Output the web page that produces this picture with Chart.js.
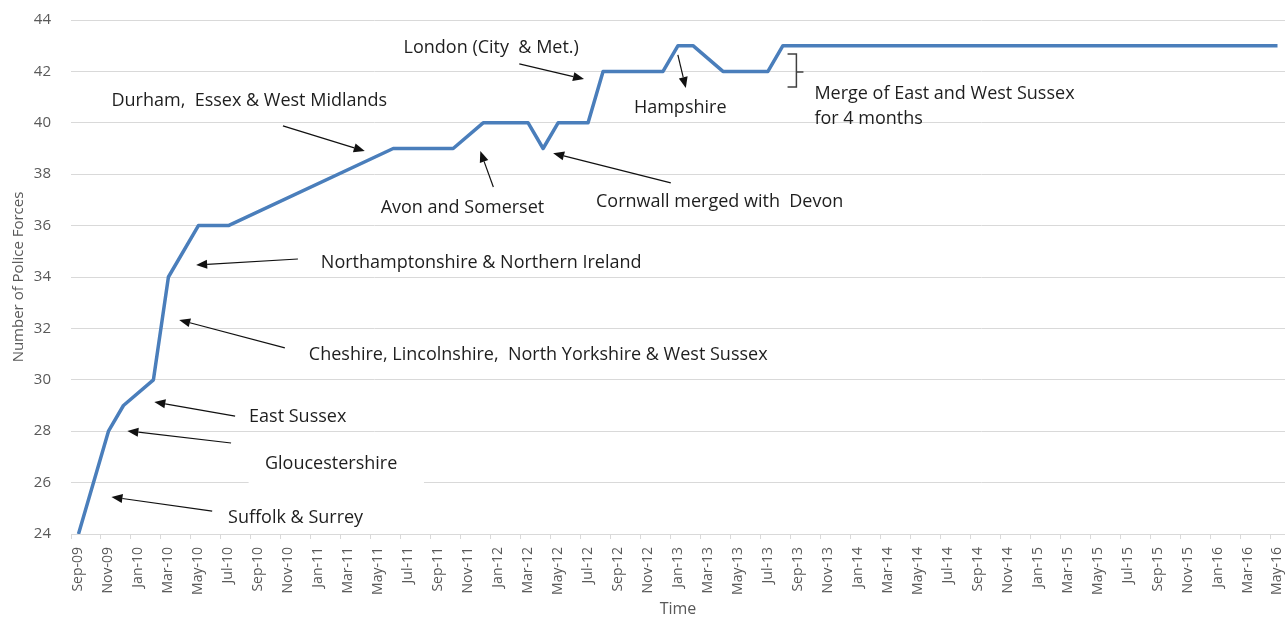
<!DOCTYPE html>
<html>
<head>
<meta charset="utf-8">
<title>Number of Police Forces</title>
<script src="https://cdn.jsdelivr.net/npm/chart.js@4.4.1/dist/chart.umd.min.js"></script>
<style>
  html, body { margin: 0; padding: 0; background: #ffffff; }
  #wrap { width: 1285px; height: 617px; position: relative; }
</style>
</head>
<body>
<div id="wrap"><canvas id="c" width="1285" height="617"></canvas></div>
<script>
// ---- Data ----
const months = [
  'Sep-09','Oct-09','Nov-09','Dec-09',
  'Jan-10','Feb-10','Mar-10','Apr-10','May-10','Jun-10','Jul-10','Aug-10','Sep-10','Oct-10','Nov-10','Dec-10',
  'Jan-11','Feb-11','Mar-11','Apr-11','May-11','Jun-11','Jul-11','Aug-11','Sep-11','Oct-11','Nov-11','Dec-11',
  'Jan-12','Feb-12','Mar-12','Apr-12','May-12','Jun-12','Jul-12','Aug-12','Sep-12','Oct-12','Nov-12','Dec-12',
  'Jan-13','Feb-13','Mar-13','Apr-13','May-13','Jun-13','Jul-13','Aug-13','Sep-13','Oct-13','Nov-13','Dec-13',
  'Jan-14','Feb-14','Mar-14','Apr-14','May-14','Jun-14','Jul-14','Aug-14','Sep-14','Oct-14','Nov-14','Dec-14',
  'Jan-15','Feb-15','Mar-15','Apr-15','May-15','Jun-15','Jul-15','Aug-15','Sep-15','Oct-15','Nov-15','Dec-15',
  'Jan-16','Feb-16','Mar-16','Apr-16','May-16'
];

// Observed values at the months where the count changes (null = no observation; line joins them)
const policeForces = [
  24, null, 28, 29,
  null, 30, 34, null, 36, null, 36, null, null, null, null, null,
  null, null, null, null, null, 39, null, null, null, 39, null, 40,
  null, null, 40, 39, 40, null, 40, 42, null, null, null, 42,
  43, 43, null, 42, null, null, 42, 43, null, null, null, null,
  null, null, null, null, null, null, null, null, null, null, null, null,
  null, null, null, null, null, null, null, null, null, null, null, null,
  null, null, null, null, 43
];

const yTicks = [24, 26, 28, 30, 32, 34, 36, 38, 40, 42, 44];

// Annotation texts (position in data space: month index, value)
const noteTexts = [
  { text: 'London (City  & Met.)', x: 21.69, y: 42.91 },
  { text: 'Durham,  Essex & West Midlands', x: 2.20, y: 40.85 },
  { text: 'Hampshire', x: 37.06, y: 40.58 },
  { text: 'Merge of East and West Sussex', x: 49.10, y: 41.12 },
  { text: 'for 4 months', x: 49.10, y: 40.15 },
  { text: 'Avon and Somerset', x: 20.16, y: 36.68 },
  { text: 'Cornwall merged with  Devon', x: 34.53, y: 36.92 },
  { text: 'Northamptonshire & Northern Ireland', x: 16.17, y: 34.54 },
  { text: 'Cheshire, Lincolnshire,  North Yorkshire & West Sussex', x: 15.37, y: 30.96 },
  { text: 'East Sussex', x: 11.38, y: 28.55 },
  { text: 'Gloucestershire', x: 12.44, y: 26.72 },
  { text: 'Suffolk & Surrey', x: 9.98, y: 24.62 }
];

// Arrows: tail -> head (data space)
const noteArrows = [
  { x1: 13.64, y1: 39.88, x2: 19.10, y2: 38.90 },
  { x1: 14.64, y1: 34.70, x2: 7.85,  y2: 34.47 },
  { x1: 13.77, y1: 31.24, x2: 6.72,  y2: 32.33 },
  { x1: 10.45, y1: 28.59, x2: 5.06,  y2: 29.14 },
  { x1: 10.18, y1: 27.54, x2: 3.26,  y2: 28.01 },
  { x1: 8.92,  y1: 24.89, x2: 2.20,  y2: 25.44 },
  { x1: 27.68, y1: 37.50, x2: 26.81, y2: 38.90 },
  { x1: 39.52, y1: 37.66, x2: 31.67, y2: 38.82 },
  { x1: 29.41, y1: 42.29, x2: 33.73, y2: 41.70 },
  { x1: 39.99, y1: 42.64, x2: 40.52, y2: 41.35 }
];

// Bracket marking the 4-month merge
const noteBracket = { xL: 47.31, xM: 47.90, xR: 48.37, yTop: 42.68, yMid: 41.98, yBot: 41.39 };

// White text-box behind "Gloucestershire" (hides the gridline there)
const noteBoxes = [ { x1: 11.35, y1: 27.35, x2: 23.05, y2: 25.8 } ];

const notesPlugin = {
  id: 'notes',
  beforeDatasetsDraw(chart) {
    const { ctx, scales: { x, y } } = chart;
    ctx.save();
    ctx.fillStyle = '#ffffff';
    noteBoxes.forEach(b => {
      const px1 = x.getPixelForValue(b.x1), px2 = x.getPixelForValue(b.x2);
      const py1 = y.getPixelForValue(b.y1), py2 = y.getPixelForValue(b.y2);
      ctx.fillRect(px1, py1, px2 - px1, py2 - py1);
    });
    ctx.restore();
  },
  afterDatasetsDraw(chart) {
    const { ctx, scales: { x, y } } = chart;
    ctx.save();
    // arrows
    ctx.strokeStyle = '#111111';
    ctx.fillStyle = '#111111';
    ctx.lineWidth = 1.2;
    noteArrows.forEach(a => {
      const x1 = x.getPixelForValue(a.x1), y1 = y.getPixelForValue(a.y1);
      const x2 = x.getPixelForValue(a.x2), y2 = y.getPixelForValue(a.y2);
      const ang = Math.atan2(y2 - y1, x2 - x1);
      const hl = 11, hw = 4.5;
      const bx = x2 - hl * Math.cos(ang), by = y2 - hl * Math.sin(ang);
      ctx.beginPath();
      ctx.moveTo(x1, y1);
      ctx.lineTo(bx, by);
      ctx.stroke();
      ctx.beginPath();
      ctx.moveTo(x2, y2);
      ctx.lineTo(bx + hw * Math.sin(ang), by - hw * Math.cos(ang));
      ctx.lineTo(bx - hw * Math.sin(ang), by + hw * Math.cos(ang));
      ctx.closePath();
      ctx.fill();
    });
    // bracket
    const b = noteBracket;
    ctx.strokeStyle = '#404040';
    ctx.lineWidth = 1.5;
    ctx.beginPath();
    ctx.moveTo(x.getPixelForValue(b.xL), y.getPixelForValue(b.yTop));
    ctx.lineTo(x.getPixelForValue(b.xM), y.getPixelForValue(b.yTop));
    ctx.lineTo(x.getPixelForValue(b.xM), y.getPixelForValue(b.yBot));
    ctx.lineTo(x.getPixelForValue(b.xL), y.getPixelForValue(b.yBot));
    ctx.moveTo(x.getPixelForValue(b.xM), y.getPixelForValue(b.yMid));
    ctx.lineTo(x.getPixelForValue(b.xR), y.getPixelForValue(b.yMid));
    ctx.stroke();
    // texts
    ctx.fillStyle = '#1e1e1e';
    ctx.font = '18px "Open Sans", sans-serif';
    ctx.textAlign = 'left';
    ctx.textBaseline = 'middle';
    noteTexts.forEach(t => {
      ctx.fillText(t.text, x.getPixelForValue(t.x), y.getPixelForValue(t.y));
    });
    ctx.restore();
  }
};

const gridGray = '#d9d9d9';
const labelGray = '#595959';

new Chart(document.getElementById('c'), {
  type: 'line',
  data: {
    labels: months,
    datasets: [{
      label: 'Number of Police Forces',
      data: policeForces,
      borderColor: '#4a7ebb',
      backgroundColor: '#4a7ebb',
      borderWidth: 3.5,
      pointRadius: 0,
      pointHoverRadius: 0,
      tension: 0,
      spanGaps: true,
      fill: false,
      borderJoinStyle: 'round',
      borderCapStyle: 'butt'
    }]
  },
  options: {
    responsive: false,
    animation: false,
    devicePixelRatio: 1,
    layout: { padding: { top: 20, right: 0, bottom: 0, left: 0 } },
    plugins: {
      legend: { display: false },
      tooltip: { enabled: false },
      title: { display: false }
    },
    scales: {
      x: {
        type: 'category',
        offset: true,
        afterFit(scale) { scale.height = 83; scale.paddingLeft = 0; scale.paddingRight = 0; },
        grid: {
          offset: true,
          drawOnChartArea: false,
          drawTicks: true,
          tickLength: 5,
          color: (c) => (c.index % 2 === 0 ? gridGray : 'rgba(0,0,0,0)')
        },
        border: { display: true, color: gridGray, width: 1 },
        ticks: {
          autoSkip: false,
          minRotation: 90,
          maxRotation: 90,
          padding: 8,
          color: labelGray,
          font: { family: '"Open Sans", sans-serif', size: 14 },
          callback: function (val, idx) { return idx % 2 === 0 ? this.getLabelForValue(val) : ''; }
        },
        title: {
          display: true,
          text: 'Time',
          color: labelGray,
          font: { family: '"Open Sans", sans-serif', size: 16, lineHeight: 1 },
          padding: { top: 0, bottom: 0 }
        }
      },
      y: {
        min: 24,
        max: 44,
        afterFit(scale) { scale.width = 71; scale.paddingTop = 0; scale.paddingBottom = 0; },
        afterBuildTicks(scale) { scale.ticks = yTicks.map(v => ({ value: v })); },
        grid: { color: gridGray, lineWidth: 1, drawTicks: false },
        border: { display: false },
        ticks: {
          padding: 20,
          color: labelGray,
          font: { family: '"Open Sans", sans-serif', size: 15 }
        },
        title: {
          display: true,
          text: 'Number of Police Forces',
          color: labelGray,
          font: { family: '"Open Sans", sans-serif', size: 15, lineHeight: 1.2 },
          padding: { top: 10, bottom: 0 }
        }
      }
    }
  },
  plugins: [notesPlugin]
});
</script>
</body>
</html>
